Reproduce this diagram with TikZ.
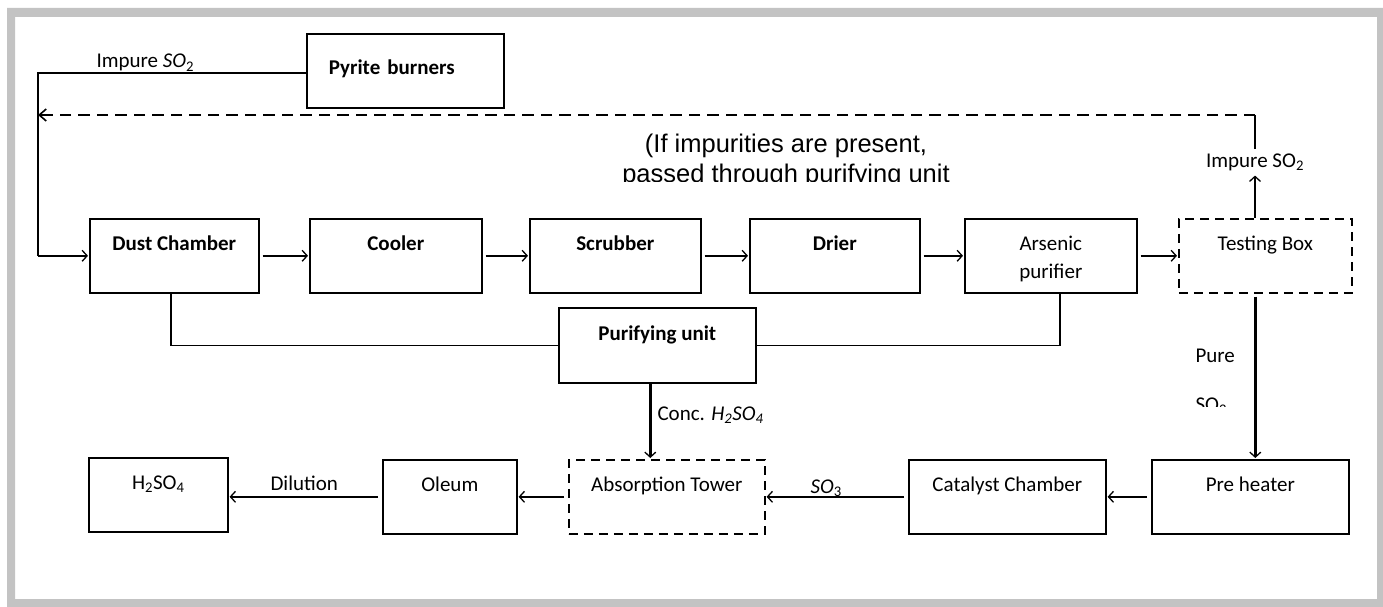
\documentclass[tikz,border=0pt]{standalone}
\usepackage{fontspec}
\setmainfont{Carlito}
\newfontfamily\arialfont{Liberation Sans}
\usetikzlibrary{arrows.meta}
\definecolor{framegray}{RGB}{195,195,195}

\begin{document}
\begin{tikzpicture}[x=1pt,y=-1pt,font=\fontsize{21}{28}\selectfont,
  unit/.style={draw,line width=1.6pt,inner sep=0pt,anchor=north west,
    minimum height=74pt,text height=32pt,text depth=42pt,align=center},
  testbox/.style={unit,dash pattern=on 9pt off 6pt},
  pipe/.style={line width=1.6pt},
  flow/.style={line width=2.5pt,shorten >=1pt,
    -{Straight Barb[length=5pt,width=11pt,line width=1.3pt]}},
  recycle/.style={line width=2.2pt,dash pattern=on 11.5pt off 7pt,
    -{Straight Barb[length=7pt,width=12pt,line width=1.6pt]}}]
  \useasboundingbox (0,0) rectangle (1383,607);
  \fill[white] (0,0) rectangle (1383,607);
  \fill[framegray,even odd rule] (7,8) rectangle (1383,607)
    (15,17) rectangle (1377,599);
  % burner and feed line
  \node[unit,text width=153pt,inner xsep=22pt,align=left,
    text height=40pt,text depth=33pt] (pyrite) at (306,33) {\textbf{Pyrite burners}};
  \node[anchor=base west] (feedlbl) at (93,68) {Impure \textit{SO}\textsubscript{2}};
  \coordinate (feed) at (38,73);
  % top row: cleaning train
  \node[unit,minimum width=169pt] (dust) at (89,218) {\textbf{Dust Chamber}};
  \node[unit,minimum width=172pt] (cooler) at (309,218) {\textbf{Cooler}};
  \node[unit,minimum width=171pt] (scrubber) at (529,218) {\textbf{Scrubber}};
  \node[unit,minimum width=170pt] (drier) at (749,218) {\textbf{Drier}};
  \node[unit,minimum width=172pt,text height=60pt,text depth=14pt]
    (arsenic) at (964,218) {Arsenic\\purifier};
  \node[testbox,minimum width=173pt] (testing) at (1178,218) {Testing Box};
  \node[unit,minimum width=197pt,minimum height=75pt,text height=33pt,
    text depth=42pt] (purify) at (558,307) {\textbf{Purifying unit}};
  % bottom row: conversion and absorption
  \node[unit,minimum width=197pt] (preheat) at (1151,459) {Pre heater};
  \node[unit,minimum width=197pt] (catalyst) at (908,459) {Catalyst Chamber};
  \node[testbox,minimum width=196pt] (absorb) at (568,459) {Absorption Tower};
  \node[unit,minimum width=134pt] (oleum) at (382,459) {Oleum};
  \node[unit,minimum width=139pt] (acid) at (88,457) {H\textsubscript{2}SO\textsubscript{4}};
  % labels on the lines
  \node[anchor=base,inner sep=4pt] (impure) at (1255,167) {Impure SO\textsubscript{2}};
  \node[anchor=base west] (conclbl) at (654,420) {Conc. \textit{H\textsubscript{2}SO\textsubscript{4}}};
  \node[anchor=base west] (so3lbl) at (807,493) {\textit{SO}\textsubscript{3}};
  \node[anchor=base west] (dillbl) at (267,490) {Dilution};
  \begin{scope}
    \clip (500,100) rectangle (1100,181);
    \node[anchor=base,align=center,font=\arialfont\fontsize{25.5}{30}\selectfont]
      (note) at (786,182) {(If impurities are present,\\passed through purifying unit};
  \end{scope}
  \begin{scope}
    \clip (1150,330) rectangle (1245,406);
    \node[anchor=base west,align=left] (purelbl) at (1192,411.5)
      {Pure\\[21.5pt]SO\textsubscript{2}};
  \end{scope}
  % connectors
  \draw[pipe] (pyrite.west |- feed) -- (feed) -- (feed |- dust.west);
  \draw[flow] (feed |- dust.west) -- (dust.west);
  \foreach \a/\b in {dust/cooler,cooler/scrubber,scrubber/drier,
    drier/arsenic,arsenic/testing}
    \draw[flow,shorten <=3pt] (\a.east) -- (\b.west);
  \coordinate (ret) at (1255,115);
  \draw[flow] (impure.south |- testing.north) -- (impure.south);
  \draw[pipe] (impure.north) -- (ret);
  \draw[recycle] (ret) -- (ret -| feed);
  \draw[pipe] ([xshift=-3.5pt]dust.south) |- (purify.west);
  \draw[pipe] ([xshift=9pt]arsenic.south) |- (purify.east);
  \coordinate (conc) at ([xshift=-7pt]purify.south);
  \draw[flow] (conc) -- (conc |- absorb.north);
  \coordinate (pure) at ([xshift=-10pt]testing.south);
  \draw[flow,shorten <=3pt] (pure) -- (pure |- preheat.north);
  \foreach \a/\b in {preheat/catalyst,catalyst/absorb,absorb/oleum,oleum/acid}
    \draw[flow,shorten <=4pt] (\a.west) -- (\a.west -| \b.east);
\end{tikzpicture}
\end{document}
